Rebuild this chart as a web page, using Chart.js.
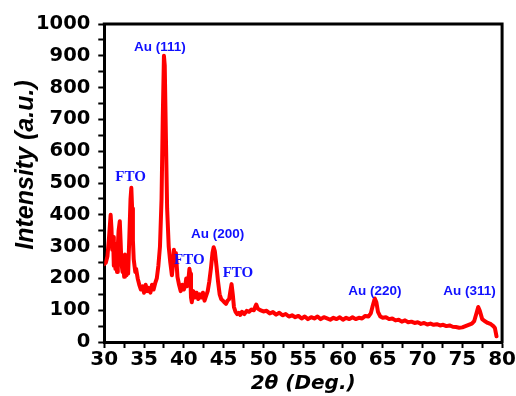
<!DOCTYPE html>
<html>
<head>
<meta charset="utf-8">
<script src="https://cdn.jsdelivr.net/npm/chart.js@4.4.0/dist/chart.umd.min.js"></script>
<style>
  html, body { margin: 0; padding: 0; background: #fff; }
  #wrap { width: 516px; height: 396px; }
</style>
</head>
<body>
<div id="wrap"><canvas id="xrd"></canvas></div>
<script>
// 2theta (deg) and intensity (a.u.)
const twoTheta = [
  30.0, 30.2, 30.4, 30.6, 30.8, 30.9, 31.0, 31.1, 31.2, 31.3,
  31.4, 31.5, 31.6, 31.7, 31.8, 31.95, 32.05, 32.15, 32.3, 32.4,
  32.5, 32.6, 32.7, 32.8, 32.9, 33.0, 33.15, 33.3, 33.4, 33.5,
  33.6, 33.7, 33.8, 33.9, 34.0, 34.2, 34.4, 34.6, 34.8, 35.0,
  35.2, 35.4, 35.6, 35.8, 36.0, 36.2, 36.4, 36.6, 36.8, 37.0,
  37.2, 37.35, 37.5, 37.6, 37.75, 37.9, 38.1, 38.3, 38.5, 38.6,
  38.75, 38.9, 39.0, 39.2, 39.4, 39.6, 39.8, 40.0, 40.2, 40.3,
  40.4, 40.55, 40.7, 40.8, 40.9, 41.0, 41.2, 41.4, 41.6, 41.8,
  42.0, 42.2, 42.4, 42.6, 42.8, 43.0, 43.2, 43.4, 43.6, 43.75,
  43.9, 44.1, 44.3, 44.5, 44.7, 44.9, 45.1, 45.3, 45.5, 45.7,
  45.85, 46.0, 46.15, 46.3, 46.5, 46.7, 46.9, 47.1, 47.3, 47.6,
  47.9, 48.2, 48.5, 48.8, 49.0, 49.1, 49.3, 49.6, 50.0, 50.4,
  50.8, 51.2, 51.6, 52.0, 52.4, 52.8, 53.2, 53.6, 54.0, 54.4,
  54.8, 55.2, 55.6, 56.0, 56.4, 56.8, 57.2, 57.6, 58.0, 58.4,
  58.8, 59.2, 59.6, 60.0, 60.4, 60.8, 61.2, 61.6, 62.0, 62.4,
  62.8, 63.2, 63.5, 63.75, 64.0, 64.2, 64.4, 64.7, 65.0, 65.4,
  65.8, 66.2, 66.6, 67.0, 67.4, 67.8, 68.2, 68.6, 69.0, 69.4,
  69.8, 70.2, 70.6, 71.0, 71.4, 71.8, 72.2, 72.6, 73.0, 73.4,
  73.8, 74.2, 74.6, 75.0, 75.4, 75.8, 76.2, 76.5, 76.8, 77.0,
  77.2, 77.5, 77.8, 78.2, 78.6, 78.9, 79.1, 79.3
];
const intensity = [
  245, 250, 270, 330, 400, 360, 290, 330, 240, 310,
  230, 280, 220, 300, 350, 380, 320, 250, 220, 240,
  205, 275, 250, 210, 230, 215, 330, 450, 485, 420,
  320, 260, 240, 220, 230, 200, 180, 165, 175, 155,
  180, 160, 170, 155, 180, 165, 185, 200, 240, 300,
  450, 700, 900, 870, 640, 420, 300, 250, 210, 235,
  290, 260, 280, 205, 180, 160, 180, 165, 180, 200,
  175, 190, 230, 215, 140, 125, 160, 140, 155, 135,
  150, 140, 155, 130, 145, 160, 190, 230, 280, 298,
  285, 240, 190, 150, 135, 130, 125, 120, 130, 135,
  160, 182, 150, 110, 95, 88, 92, 85, 95, 88,
  98, 95, 102, 100, 112, 118, 105, 100, 96, 98,
  90, 94, 86, 92, 84, 88, 80, 84, 78, 82,
  74, 80, 72, 78, 74, 80, 72, 78, 74, 70,
  76, 72, 78, 70, 76, 72, 78, 72, 76, 74,
  82, 80, 90, 115, 137, 125, 95, 80, 76, 78,
  72, 74, 68, 70, 64, 68, 62, 64, 60, 62,
  57, 60, 55, 58, 54, 56, 52, 54, 50, 52,
  48, 47, 45, 46, 50, 54, 58, 66, 92, 110,
  98, 72, 66, 60, 56, 50, 44, 18
];

// peak labels
const peakNames = ['Au (111)', 'FTO', 'Au (200)', 'FTO', 'FTO', 'Au (220)', 'Au (311)'];
const peakX = [37.0, 33.3, 44.25, 40.7, 46.8, 64.0, 75.9];
const peakY = [927, 520, 340, 257, 216, 159, 159];

const yTitle = 'Intensity (a.u.)';

const points = twoTheta.map((t, i) => ({ x: t, y: intensity[i] }));

// frame on top/right, y title, blue peak labels
const extras = {
  id: 'extras',
  afterDatasetsDraw(chart) {
    const { ctx, chartArea: a, scales } = chart;
    ctx.save();
    ctx.strokeStyle = '#000';
    ctx.lineWidth = 3;
    ctx.beginPath();
    ctx.moveTo(a.left - 1.5, a.top);
    ctx.lineTo(a.right, a.top);
    ctx.lineTo(a.right, a.bottom + 1.5);
    ctx.stroke();

    ctx.fillStyle = '#1010ff';
    ctx.textAlign = 'center';
    ctx.textBaseline = 'middle';
    peakNames.forEach((name, i) => {
      ctx.font = name === 'FTO' ? 'bold 15px "Liberation Serif"' : 'bold 13.5px "Liberation Sans"';
      ctx.fillText(name, scales.x.getPixelForValue(peakX[i]), scales.y.getPixelForValue(peakY[i]));
    });

    ctx.translate(26, 165);
    ctx.rotate(-Math.PI / 2);
    ctx.fillStyle = '#000';
    ctx.font = 'italic bold 25px "Liberation Sans"';
    ctx.fillText(yTitle, 0, 0);
    ctx.restore();
  }
};

new Chart(document.getElementById('xrd'), {
  type: 'line',
  data: {
    datasets: [{
      data: points,
      borderColor: '#ff0000',
      borderWidth: 4,
      borderJoinStyle: 'round',
      borderCapStyle: 'round',
      pointRadius: 0,
      tension: 0,
      fill: false
    }]
  },
  options: {
    responsive: true,
    maintainAspectRatio: false,
    animation: false,
    layout: { padding: { top: 24, right: 0, left: 28, bottom: 0 } },
    plugins: { legend: { display: false }, tooltip: { enabled: false } },
    scales: {
      x: {
        type: 'linear',
        min: 30,
        max: 80,
        ticks: {
          stepSize: 2.5,
          autoSkip: false,
          maxRotation: 0,
          color: '#000',
          padding: 0,
          font: { family: 'DejaVu Sans', size: 20, weight: 'bold' },
          callback: v => (v % 5 === 0 ? v : '')
        },
        grid: { drawOnChartArea: false, tickLength: 6, tickWidth: 2, tickColor: '#000' },
        border: { color: '#000', width: 3 },
        title: {
          display: true,
          text: '2θ (Deg.)',
          color: '#000',
          padding: { top: 0, bottom: 0 },
          font: { family: 'DejaVu Sans', size: 20, weight: 'bold', style: 'italic' }
        }
      },
      y: {
        min: 0,
        max: 1000,
        ticks: {
          stepSize: 50,
          autoSkip: false,
          color: '#000',
          padding: 8,
          font: { family: 'DejaVu Sans', size: 19.5, weight: 'bold' },
          callback: v => (v % 100 === 0 ? v : '')
        },
        grid: { drawOnChartArea: false, tickLength: 6, tickWidth: 2, tickColor: '#000' },
        border: { color: '#000', width: 3 }
      }
    }
  },
  plugins: [extras]
});
</script>
</body>
</html>
